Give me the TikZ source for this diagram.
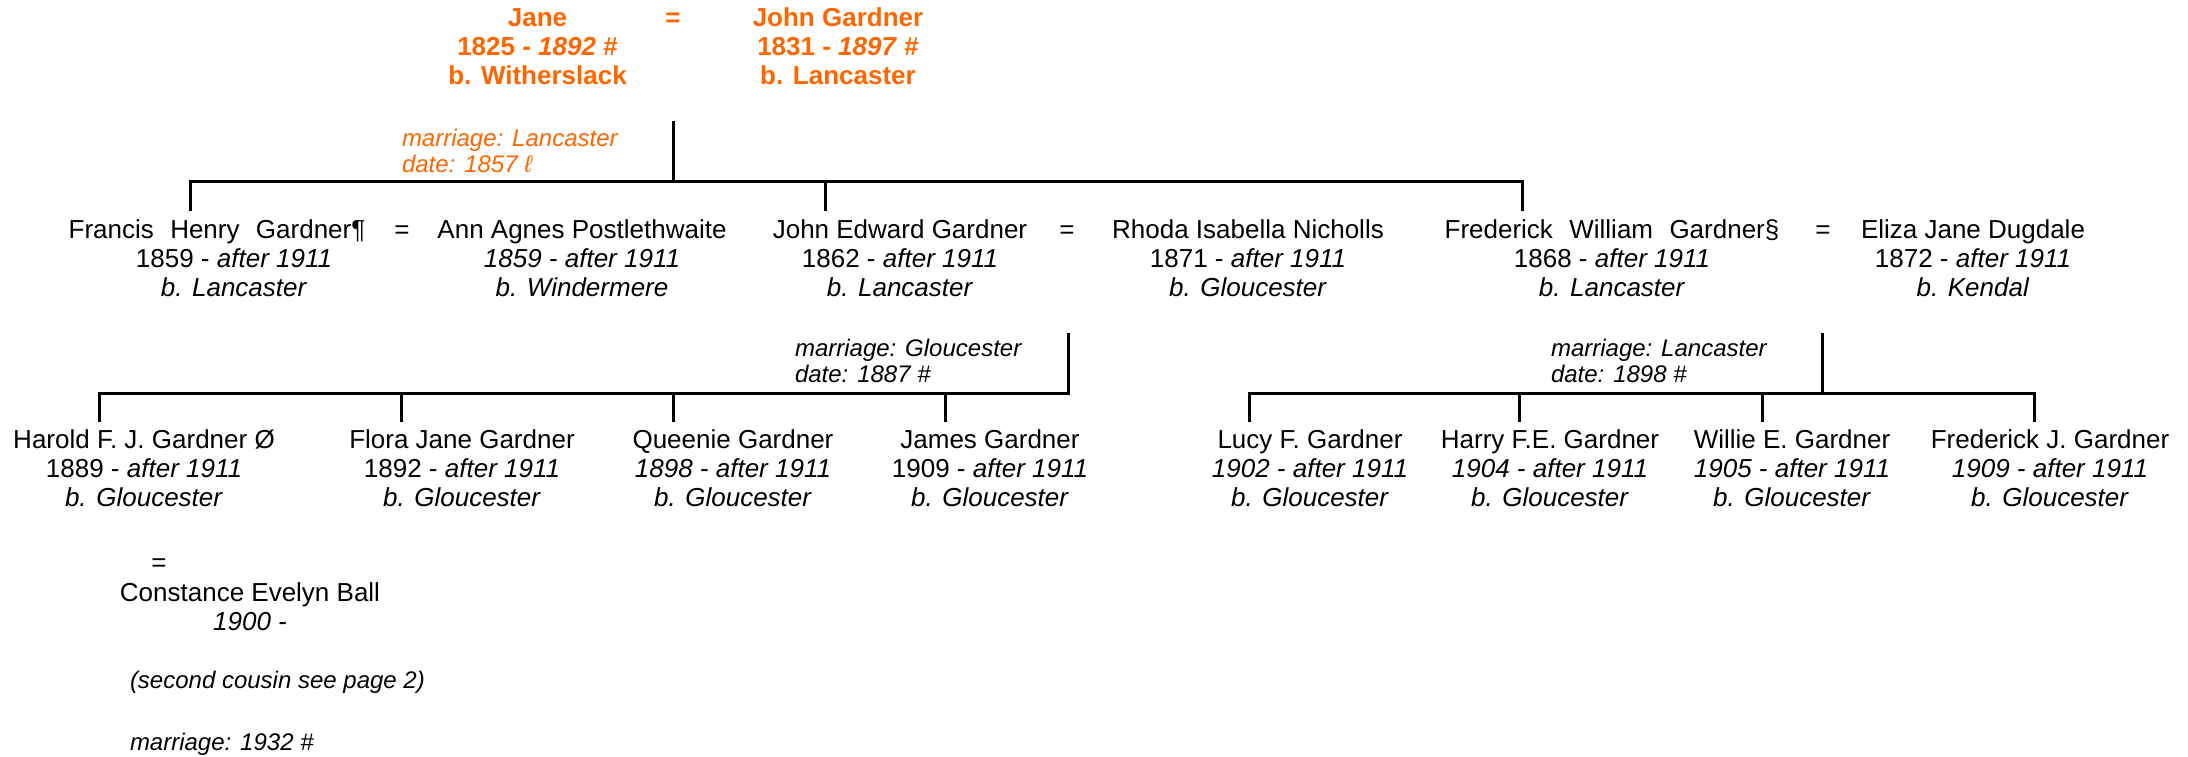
\documentclass[tikz,border=0pt]{standalone}
\usepackage{fontspec}
\setmainfont{Liberation Sans}
\definecolor{tree}{RGB}{255,102,0}
\begin{document}
\begin{tikzpicture}[x=1pt,y=-1pt,
  every node/.style={inner sep=0pt, outer sep=0pt},
  person/.style={align=center, anchor=base, font=\fontsize{26}{29}\selectfont},
  root/.style={align=center, anchor=base, text=tree, font=\fontsize{26}{29}\selectfont\bfseries},
  eq/.style={anchor=base, font=\fontsize{26}{29}\selectfont},
  note/.style={align=left, anchor=base west, font=\fontsize{24}{25.5}\selectfont\itshape},
  link/.style={line width=3pt}]
\useasboundingbox (0,0) rectangle (2188,756);

% generation 1 (node positions give the baseline of the last line)
\node[root] (jane) at (537.5,84.7) {Jane\\1825 - \textit{1892} \#\\b. Witherslack};
\node[eq, text=tree, font=\fontsize{26}{29}\selectfont\bfseries] (eq0) at (673,26.7) {=};
\node[root] (john) at (838,84.7) {John Gardner\\1831 - \textit{1897} \#\\b. Lancaster};
\node[note, text=tree] (m0) at (402,172) {marriage: Lancaster\\date: 1857 ℓ};

\coordinate (t0) at (673,121);
\coordinate (b0) at (673,181);
\coordinate (l0) at (190,181);
\coordinate (r0) at (1522,181);
\coordinate (c1) at (825,181);
\coordinate (d1a) at (190,211);
\coordinate (d1b) at (825,211);
\coordinate (d1c) at (1522,211);
\draw[link] (t0) -- (b0);
\draw[link] (d1a) -- (l0) -- (r0) -- (d1c);
\draw[link] (c1) -- (d1b);

% generation 2
\node[person] (francis) at (234,296) {Francis\hspace{0.63em}Henry\hspace{0.63em}Gardner¶\hspace*{34pt}\\1859 - \textit{after 1911}\\\textit{b. Lancaster}};
\node[eq] (eq1) at (402,238) {=};
\node[person] (ann) at (582,296) {Ann Agnes Postlethwaite\\\textit{1859 - after 1911}\\\textit{b. Windermere}};
\node[person] (johned) at (900,296) {John Edward Gardner\\1862 - \textit{after 1911}\\\textit{b. Lancaster}};
\node[eq] (eq2) at (1067,238) {=};
\node[person] (rhoda) at (1248,296) {Rhoda Isabella Nicholls\\1871 - \textit{after 1911}\\\textit{b. Gloucester}};
\node[person] (fred) at (1612,296) {Frederick\hspace{0.63em}William\hspace{0.63em}Gardner§\\1868 - \textit{after 1911}\\\textit{b. Lancaster}};
\node[eq] (eq3) at (1823,238) {=};
\node[person] (eliza) at (1973,296) {Eliza Jane Dugdale\\1872 - \textit{after 1911}\\\textit{b. Kendal}};

\node[note] (m1) at (795,382) {marriage: Gloucester\\date: 1887 \#};
\node[note] (m2) at (1551,382) {marriage: Lancaster\\date: 1898 \#};

% John Edward family
\coordinate (t1) at (1068,333);
\coordinate (b1) at (1068,393);
\coordinate (l1) at (99,393);
\coordinate (e1b) at (401,393);
\coordinate (e1c) at (673,393);
\coordinate (e1d) at (945,393);
\coordinate (g1a) at (99,422);
\coordinate (g1b) at (401,422);
\coordinate (g1c) at (673,422);
\coordinate (g1d) at (945,422);
\draw[link] (t1) -- (b1) -- (l1) -- (g1a);
\draw[link] (e1b) -- (g1b);
\draw[link] (e1c) -- (g1c);
\draw[link] (e1d) -- (g1d);

% Frederick William family
\coordinate (t2) at (1822,333);
\coordinate (b2) at (1822,393);
\coordinate (l2) at (1249,393);
\coordinate (r2) at (2034,393);
\coordinate (e2b) at (1519,393);
\coordinate (e2c) at (1762,393);
\coordinate (g2a) at (1249,422);
\coordinate (g2b) at (1519,422);
\coordinate (g2c) at (1762,422);
\coordinate (g2d) at (2034,422);
\draw[link] (t2) -- (b2);
\draw[link] (g2a) -- (l2) -- (r2) -- (g2d);
\draw[link] (e2b) -- (g2b);
\draw[link] (e2c) -- (g2c);

% generation 3
\node[person] (harold) at (144,506) {Harold F. J. Gardner Ø\\1889 - \textit{after 1911}\\\textit{b. Gloucester}};
\node[person] (flora) at (462,506) {Flora Jane Gardner\\1892 - \textit{after 1911}\\\textit{b. Gloucester}};
\node[person] (queenie) at (733,506) {Queenie Gardner\\\textit{1898 - after 1911}\\\textit{b. Gloucester}};
\node[person] (james) at (990,506) {James Gardner\\1909 - \textit{after 1911}\\\textit{b. Gloucester}};
\node[person] (lucy) at (1310,506) {Lucy F. Gardner\\\textit{1902 - after 1911}\\\textit{b. Gloucester}};
\node[person] (harry) at (1550,506) {Harry F.E. Gardner\\\textit{1904 - after 1911}\\\textit{b. Gloucester}};
\node[person] (willie) at (1792,506) {Willie E. Gardner\\\textit{1905 - after 1911}\\\textit{b. Gloucester}};
\node[person] (fredj) at (2050,506) {Frederick J. Gardner\\\textit{1909 - after 1911}\\\textit{b. Gloucester}};

% Harold's marriage
\node[eq] (eq4) at (159,571) {=};
\node[person] (constance) at (250,630) {Constance Evelyn Ball\\\textit{1900 -}};
\node[note] (cousin) at (130,688) {(second cousin see page 2)};
\node[note] (m3) at (130,750) {marriage: 1932 \#};
\end{tikzpicture}
\end{document}
